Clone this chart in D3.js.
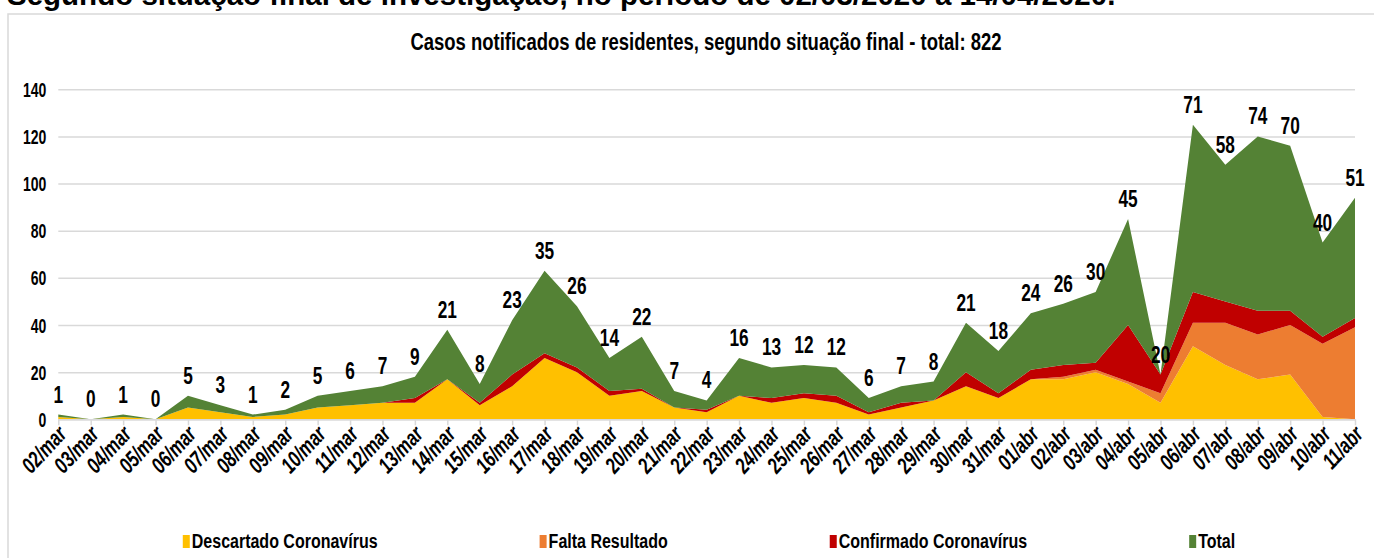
<!DOCTYPE html>
<html>
<head>
<meta charset="utf-8">
<script src="https://cdn.jsdelivr.net/npm/d3@7"></script>
<style>
  body { margin: 0; background: #fff; }
  svg text { font-family: "Liberation Sans", Arial, sans-serif; font-weight: bold; fill: #000; }
</style>
</head>
<body>
<div id="chart"></div>
<script>
// categories (daily notifications, 02/mar - 11/abr)
const days = ["02/mar","03/mar","04/mar","05/mar","06/mar","07/mar","08/mar","09/mar","10/mar","11/mar",
  "12/mar","13/mar","14/mar","15/mar","16/mar","17/mar","18/mar","19/mar","20/mar","21/mar",
  "22/mar","23/mar","24/mar","25/mar","26/mar","27/mar","28/mar","29/mar","30/mar","31/mar",
  "01/abr","02/abr","03/abr","04/abr","05/abr","06/abr","07/abr","08/abr","09/abr","10/abr","11/abr"];

// stacked series
const descartado =     [1,0,1,0,5,3,1,2,5,6, 7,7,17,6,14,26,20,10,12,5, 3,10,7,9,7,2,5,8,14,9, 17,17,20,15,7,31,23,17,19,1,0];
const faltaResultado = [0,0,0,0,0,0,0,0,0,0, 0,0,0,0,0,0,0,0,0,0, 0,0,0,0,0,0,0,0,0,0, 0,1,1,1,4,10,18,19,21,31,39];
const confirmado =     [0,0,0,0,0,0,0,0,0,0, 0,2,0,1,5,2,2,2,1,0, 1,0,2,2,3,1,2,0,6,2, 4,5,3,24,8,13,9,10,6,3,4];
// green "Total" layer as drawn (05/abr shows no green band)
const totalArea =      [1,0,1,0,5,3,1,2,5,6, 7,9,21,8,23,35,26,14,22,7, 4,16,13,12,12,6,7,8,21,18, 24,26,30,45,0,71,58,74,70,40,51];
// numbers printed above each day
const totalLabels =    [1,0,1,0,5,3,1,2,5,6, 7,9,21,8,23,35,26,14,22,7, 4,16,13,12,12,6,7,8,21,18, 24,26,30,45,20,71,58,74,70,40,51];

const yTicks = [0, 20, 40, 60, 80, 100, 120, 140];
const seriesKeys = ["descartado", "falta", "confirmado", "total"];
const seriesNames = ["Descartado Coronavírus", "Falta Resultado", "Confirmado Coronavírus", "Total"];
const colors = ["#FFC000", "#ED7D31", "#C00000", "#548235"];

const W = 1374, H = 558;
const svg = d3.select("#chart").append("svg").attr("width", W).attr("height", H);

// header text of the page, cut by the top edge
svg.append("text")
  .attr("x", 7).attr("y", 5)
  .attr("font-size", "29.5px")
  .text("Segundo situação final de investigação, no período de 02/03/2020 a 14/04/2020.");

// chart frame
svg.append("rect")
  .attr("x", 8).attr("y", 14).attr("width", W).attr("height", H)
  .attr("fill", "#fff").attr("stroke", "#d9d9d9").attr("stroke-width", 1.5);

// narrow bold look (Arial Narrow is not installed): squeeze horizontally
svg.append("text")
  .attr("transform", "translate(706,50) scale(0.77,1)")
  .attr("text-anchor", "middle")
  .attr("font-size", "24px")
  .text("Casos notificados de residentes, segundo situação final - total: 822");

const x = d3.scalePoint().domain(days).range([58.3, 1355]);
const y = d3.scaleLinear().domain([0, 140]).range([419.3, 89.3]);

// gridlines + y labels
svg.append("g")
  .attr("transform", "translate(58.3,0)")
  .call(d3.axisLeft(y).tickValues(yTicks).tickSize(-(1355 - 58.3)))
  .call(g => g.select(".domain").remove())
  .call(g => g.selectAll(".tick line").attr("stroke", "#d9d9d9").attr("stroke-width", 1.5))
  .call(g => g.selectAll(".tick text")
    .attr("font-family", null)
    .attr("font-size", "19.5px")
    .attr("x", 0).attr("dy", "0.36em")
    .attr("transform", "translate(-12,0) scale(0.72,1)"));

// stacked areas
const rows = days.map((d, i) => ({
  day: d,
  descartado: descartado[i],
  falta: faltaResultado[i],
  confirmado: confirmado[i],
  total: totalArea[i]
}));
const stacked = d3.stack().keys(seriesKeys)(rows);

const area = d3.area()
  .x(d => x(d.data.day))
  .y0(d => y(d[0]))
  .y1(d => y(d[1]));

svg.append("g").selectAll("path")
  .data(stacked)
  .join("path")
  .attr("fill", (d, i) => colors[i])
  .attr("d", area);

// x axis
svg.append("g")
  .attr("transform", `translate(0,${y(0)})`)
  .call(d3.axisBottom(x).tickSize(6).tickSizeOuter(0))
  .call(g => g.select(".domain").attr("stroke", "#d9d9d9").attr("stroke-width", 1.5))
  .call(g => g.selectAll(".tick line").attr("stroke", "#d9d9d9").attr("stroke-width", 1.5))
  .call(g => g.selectAll(".tick text")
    .attr("font-family", null)
    .attr("font-size", "22.5px")
    .attr("font-style", "italic")
    .attr("text-anchor", "end")
    .attr("y", 0).attr("dy", 0)
    .attr("transform", "translate(9,16) rotate(-47) scale(0.74,1)"));

// value labels above the stack
const topLayer = stacked[stacked.length - 1];
svg.append("g").selectAll("text")
  .data(topLayer)
  .join("text")
  .attr("transform", d => `translate(${x(d.data.day)},${y(d[1]) - 12}) scale(0.72,1)`)
  .attr("text-anchor", "middle")
  .attr("font-size", "24px")
  .text((d, i) => totalLabels[i]);

// legend
const legend = svg.append("g");
const items = legend.selectAll("g").data(seriesNames).join("g");
items.append("rect")
  .attr("x", 0).attr("y", -13).attr("width", 7).attr("height", 13)
  .attr("fill", (d, i) => colors[i]);
items.append("text")
  .attr("transform", "translate(9,0) scale(0.8,1)")
  .attr("font-size", "20px")
  .text(d => d);
const gap = 162;
const widths = items.nodes().map(n => n.getBBox().width);
const totalW = d3.sum(widths) + gap * (widths.length - 1);
let cx = 709 - totalW / 2;
items.attr("transform", (d, i) => {
  const t = `translate(${cx},548)`;
  cx += widths[i] + gap;
  return t;
});
</script>
</body>
</html>
